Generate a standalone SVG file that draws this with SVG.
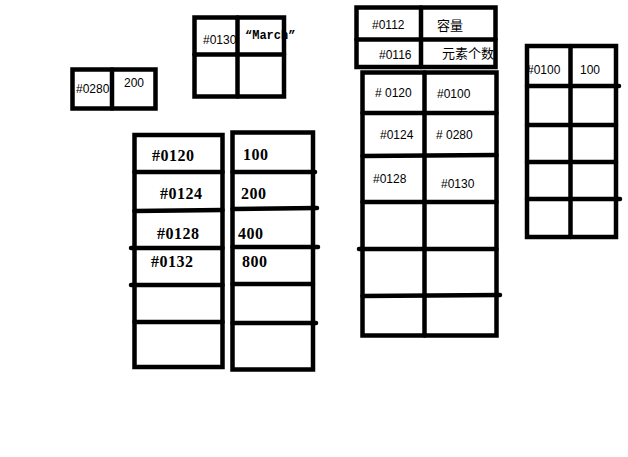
<svg xmlns="http://www.w3.org/2000/svg" width="628" height="457" viewBox="0 0 628 457">
<style>
.b{fill:#fff;stroke:#000;stroke-width:4.5}
.l{stroke:#000;stroke-width:4.5;fill:none;stroke-linecap:round}
.s{font-family:"Liberation Sans",Arial,sans-serif;font-size:12px;fill:#000}
.c{font-family:"Liberation Sans","Noto Sans CJK SC",sans-serif;font-size:13px;fill:#000}
.m{font-family:"Liberation Mono","Courier New",monospace;font-size:12px;font-weight:bold;fill:#000}
.t{font-family:"Liberation Serif",serif;font-size:16px;font-weight:bold;fill:#000;letter-spacing:0.5px}
</style>
<g id="box-0280">
<rect class="b" x="72.5" y="69.5" width="83" height="39"/>
<line class="l" x1="112" y1="69.5" x2="112" y2="108.5"/>
<text class="s" x="76" y="93">#0280</text>
<text class="s" x="124" y="87">200</text>
</g>
<g id="box-0130">
<rect class="b" x="194.5" y="17.5" width="89.5" height="79"/>
<line class="l" x1="237.5" y1="17.5" x2="237.5" y2="96.5"/>
<line class="l" x1="194.5" y1="54.5" x2="284" y2="54.5"/>
<text class="s" x="203" y="44">#0130</text>
<text class="m" x="245" y="39">“March”</text>
</g>
<g id="box-header">
<rect class="b" x="356.5" y="7.5" width="139" height="59.5"/>
<line class="l" x1="421" y1="7.5" x2="421" y2="67"/>
<line class="l" x1="356.5" y1="39.5" x2="495.5" y2="39.5"/>
<text class="s" x="372" y="29">#0112</text>
<text class="c" x="437" y="30">容量</text>
<text class="s" x="379" y="59">#0116</text>
<text class="c" x="442" y="58">元素个数</text>
</g>
<g id="box-table">
<rect class="b" x="362.5" y="72.5" width="134" height="263"/>
<line class="l" x1="424.5" y1="72.5" x2="424.5" y2="335.5"/>
<line class="l" x1="362.5" y1="113" x2="496.5" y2="113"/>
<line class="l" x1="362.5" y1="156" x2="496.5" y2="155"/>
<line class="l" x1="362.5" y1="202" x2="496.5" y2="202"/>
<line class="l" x1="359" y1="249" x2="496.5" y2="249"/>
<line class="l" x1="362.5" y1="296" x2="500" y2="295"/>
<text class="s" x="375" y="97"># 0120</text>
<text class="s" x="437" y="98">#0100</text>
<text class="s" x="380" y="139">#0124</text>
<text class="s" x="436" y="139"># 0280</text>
<text class="s" x="373" y="183">#0128</text>
<text class="s" x="441" y="188">#0130</text>
</g>
<g id="box-addr">
<rect class="b" x="134.5" y="135" width="88" height="232"/>
<line class="l" x1="134.5" y1="172" x2="222.5" y2="172"/>
<line class="l" x1="134.5" y1="211" x2="222.5" y2="210"/>
<line class="l" x1="131" y1="248" x2="222.5" y2="248"/>
<line class="l" x1="131" y1="285" x2="222.5" y2="285"/>
<line class="l" x1="134.5" y1="322" x2="222.5" y2="322"/>
<text class="t" x="152" y="161">#0120</text>
<text class="t" x="160" y="199">#0124</text>
<text class="t" x="157" y="239">#0128</text>
<text class="t" x="151" y="267">#0132</text>
</g>
<g id="box-values">
<rect class="b" x="232.5" y="132.5" width="80.5" height="237"/>
<line class="l" x1="232.5" y1="172" x2="315" y2="172"/>
<line class="l" x1="232.5" y1="209" x2="317" y2="208"/>
<line class="l" x1="232.5" y1="247" x2="318" y2="247"/>
<line class="l" x1="232.5" y1="284" x2="313" y2="284"/>
<line class="l" x1="232.5" y1="323" x2="316" y2="323"/>
<text class="t" x="243" y="160">100</text>
<text class="t" x="241" y="199">200</text>
<text class="t" x="238" y="239">400</text>
<text class="t" x="242" y="267">800</text>
</g>
<g id="box-0100">
<rect class="b" x="527" y="46" width="89" height="191"/>
<line class="l" x1="570.5" y1="46" x2="570.5" y2="237"/>
<line class="l" x1="527" y1="86" x2="619" y2="86"/>
<line class="l" x1="527" y1="125" x2="616" y2="125"/>
<line class="l" x1="527" y1="162" x2="616" y2="162"/>
<line class="l" x1="527" y1="199" x2="620" y2="199"/>
<text class="s" x="527" y="74">#0100</text>
<text class="s" x="580" y="74">100</text>
</g>
<g id="connectors"></g>
</svg>
